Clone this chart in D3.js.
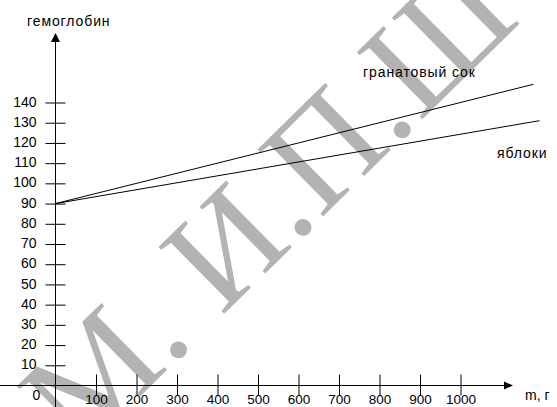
<!DOCTYPE html>
<html><head><meta charset="utf-8">
<script src="https://cdn.jsdelivr.net/npm/d3@7/dist/d3.min.js"></script>
<style>body{margin:0;background:#fff}svg{display:block}</style>
</head><body><svg id="c" width="557" height="407"></svg>
<script>
const yTicks=[10,20,30,40,50,60,70,80,90,100,110,120,130,140];
const xTicks=[100,200,300,400,500,600,700,800,900,1000];
const pomegranateMass=[0,1180];
const pomegranateHb=[90,149];
const appleMass=[0,1195];
const appleHb=[90,131];
const yTitle="гемоглобин";
const xTitle="m, г";
const originLabel="0";
const pomegranateLabel="гранатовый сок";
const appleLabel="яблоки";
const watermark="М. И.П.Ш";

const svg=d3.select("#c");
const font="'Liberation Sans', Arial, sans-serif";
const x=d3.scaleLinear().domain([0,1000]).range([55.5,460.5]);
const y=d3.scaleLinear().domain([0,140]).range([385.5,102.5]);

// watermark
svg.append("text")
  .attr("transform","translate(178,348) rotate(-44.5)")
  .attr("x",-146).attr("y",8)
  .attr("font-family","'Liberation Serif', 'Times New Roman', serif")
  .attr("font-size",143)
  .attr("fill","#b3b3b3")
  .text(watermark);

// axes lines
svg.append("line").attr("x1",0).attr("x2",506).attr("y1",y(0)).attr("y2",y(0)).attr("stroke","#000");
svg.append("path").attr("d",`M513,${y(0)}L504,${y(0)-4}L504,${y(0)+4}Z`).attr("fill","#000");
svg.append("line").attr("x1",x(0)).attr("x2",x(0)).attr("y1",40).attr("y2",407).attr("stroke","#000");
svg.append("path").attr("d",`M${x(0)},33L${x(0)-4.5},42L${x(0)+4.5},42Z`).attr("fill","#000");

// y axis ticks
const ya=svg.append("g").attr("transform",`translate(${x(0)},0)`)
  .call(d3.axisLeft(y).tickValues(yTicks).tickFormat(d3.format("d")).tickSize(10).tickPadding(10));
ya.select(".domain").remove();
ya.selectAll(".tick line").attr("x1",10).attr("x2",-10).attr("stroke","#000");
ya.selectAll(".tick text").attr("font-family",font).attr("font-size",14).attr("fill","#000")
  .attr("x",-19).attr("dy","0.26em");

// x axis ticks
const xa=svg.append("g").attr("transform",`translate(0,${y(0)})`)
  .call(d3.axisBottom(x).tickValues(xTicks).tickFormat(d3.format("d")).tickSize(10).tickPadding(2));
xa.select(".domain").remove();
xa.selectAll(".tick line").attr("y1",-11).attr("y2",10).attr("stroke","#000");
xa.selectAll(".tick text").attr("font-family",font).attr("font-size",13.5).attr("fill","#000")
  .attr("y",18.5).attr("dy",0);

svg.append("text").attr("x",36.5).attr("y",400).attr("text-anchor","middle")
  .attr("font-family",font).attr("font-size",14).text(originLabel);

// lines
const line=d3.line().x(d=>x(d[0])).y(d=>y(d[1]));
svg.append("path").datum(d3.zip(pomegranateMass,pomegranateHb)).attr("d",line)
  .attr("fill","none").attr("stroke","#000").attr("stroke-width",1);
svg.append("path").datum(d3.zip(appleMass,appleHb)).attr("d",line)
  .attr("fill","none").attr("stroke","#000").attr("stroke-width",1);

// texts
const lab=(tx,ty,t)=>svg.append("text").attr("x",tx).attr("y",ty).attr("font-family",font)
  .attr("font-size",14).attr("letter-spacing",0.9).text(t);
lab(27,26,yTitle);
lab(363,77,pomegranateLabel);
lab(497,158,appleLabel);
svg.append("text").attr("x",525).attr("y",400).attr("font-family",font).attr("font-size",14).text(xTitle);
</script></body></html>
